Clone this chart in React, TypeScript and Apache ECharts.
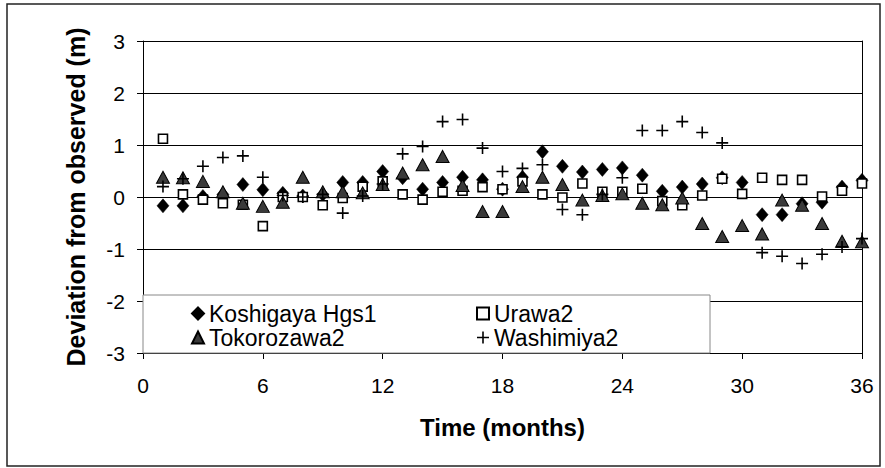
import React, { useEffect, useRef } from "react";
import * as echarts from "echarts";

const months = Array.from({ length: 36 }, (_, i) => i + 1);
const koshigaya = [-0.17, -0.17, 0.01, 0.05, 0.24, 0.14, 0.07, 0.02, 0.05, 0.28, 0.28, 0.49, 0.37, 0.15, 0.28, 0.38, 0.33, 0.15, 0.38, 0.87, 0.59, 0.48, 0.53, 0.56, 0.42, 0.11, 0.19, 0.25, 0.37, 0.28, -0.34, -0.34, -0.13, -0.1, 0.19, 0.32];
const urawa = [1.12, 0.05, -0.05, -0.12, -0.15, -0.56, 0.0, 0.0, -0.16, -0.02, 0.2, 0.3, 0.05, -0.05, 0.1, 0.12, 0.19, 0.15, 0.3, 0.05, -0.01, 0.26, 0.1, 0.1, 0.16, -0.08, -0.16, 0.03, 0.35, 0.06, 0.37, 0.33, 0.33, 0.01, 0.12, 0.26];
const tokorozawa = [0.38, 0.37, 0.3, 0.1, -0.12, -0.18, -0.1, 0.38, 0.1, 0.1, 0.08, 0.24, 0.46, 0.62, 0.78, 0.22, -0.28, -0.28, 0.2, 0.38, 0.24, -0.06, 0.03, 0.06, -0.12, -0.15, -0.02, -0.51, -0.76, -0.55, -0.71, -0.06, -0.16, -0.51, -0.85, -0.86];
const washimiya: (number | null)[] = [0.2, 0.35, 0.59, 0.76, 0.79, 0.38, 0.03, 0.0, 0.05, -0.31, 0.02, 0.25, 0.83, 0.97, 1.45, 1.49, 0.94, 0.49, 0.55, 0.62, -0.24, -0.34, 0.05, 0.37, 1.28, 1.28, 1.45, 1.24, 1.04, null, -1.07, -1.14, -1.28, -1.1, -0.96, -0.8];

const seriesNames = ["Koshigaya Hgs1", "Urawa2", "Tokorozawa2", "Washimiya2"];

const FONT = "'Liberation Sans', Arial, Helvetica, sans-serif";
const PLUS = "path://M5.2,0H6.8V5.2H12V6.8H6.8V12H5.2V6.8H0V5.2H5.2Z";

const pairs = (vals: (number | null)[]) =>
  months.map((m, i) => (vals[i] === null ? [m, null] : [m, vals[i]]));

export default function App() {
  const ref = useRef<HTMLDivElement>(null);
  useEffect(() => {
    document.body.style.margin = "0";
    if (!ref.current) return;
    const chart = echarts.init(ref.current, undefined, { renderer: "svg" });
    const legendText = { fontFamily: FONT, fontSize: 23, color: "#000" };
    chart.setOption({
      animation: false,
      backgroundColor: "#fff",
      textStyle: { fontFamily: FONT },
      grid: { left: 143, right: 23, top: 41, bottom: 115, containLabel: false },
      xAxis: {
        type: "value",
        min: 0,
        max: 36,
        interval: 6,
        name: "Time (months)",
        nameLocation: "middle",
        nameGap: 62,
        nameTextStyle: { fontFamily: FONT, fontSize: 24, fontWeight: "bold", color: "#000" },
        axisLine: { show: true, onZero: false, lineStyle: { color: "#000", width: 1 } },
        axisTick: { show: true, inside: false, length: 6, lineStyle: { color: "#000" } },
        axisLabel: { fontFamily: FONT, fontSize: 21, color: "#000", margin: 22 },
        splitLine: { show: false },
      },
      yAxis: [
        {
          type: "value",
          min: -3,
          max: 3,
          interval: 1,
          name: "Deviation from observed (m)",
          nameLocation: "middle",
          nameGap: 55,
          nameTextStyle: { fontFamily: FONT, fontSize: 25, fontWeight: "bold", color: "#000" },
          axisLine: { show: true, onZero: false, lineStyle: { color: "#000", width: 1 } },
          axisTick: { show: true, inside: false, length: 6, lineStyle: { color: "#000" } },
          axisLabel: { fontFamily: FONT, fontSize: 21, color: "#000", margin: 18 },
          splitLine: { show: true, lineStyle: { color: "#000", width: 1 } },
        },
        {
          type: "value",
          min: -3,
          max: 3,
          interval: 1,
          position: "right",
          axisLine: { show: true, onZero: false, lineStyle: { color: "#000", width: 1 } },
          axisTick: { show: false },
          axisLabel: { show: false },
          splitLine: { show: false },
        },
      ],
      graphic: [
        {
          type: "rect",
          z: 0,
          silent: true,
          shape: { x: 7, y: 4, width: 873, height: 462 },
          style: { fill: "none", stroke: "#222", lineWidth: 1.5 },
        },
        {
          type: "rect",
          z: 50,
          silent: true,
          shape: { x: 143, y: 295, width: 567, height: 58 },
          style: { fill: "#fff", stroke: "#888", lineWidth: 1 },
        },
      ],
      legend: [
        {
          data: [seriesNames[0], seriesNames[2]],
          orient: "vertical",
          left: 186,
          top: 297,
          itemGap: 1,
          itemWidth: 12,
          itemHeight: 12,
          z: 60,
          textStyle: legendText,
          selectedMode: false,
        },
        {
          data: [seriesNames[1], seriesNames[3]],
          orient: "vertical",
          left: 471,
          top: 297,
          itemGap: 1,
          itemWidth: 12,
          itemHeight: 12,
          z: 60,
          textStyle: legendText,
          selectedMode: false,
        },
      ],
      series: [
        {
          name: seriesNames[0],
          type: "scatter",
          symbol: "diamond",
          symbolSize: [12, 14],
          itemStyle: { color: "#000", borderColor: "#000", borderWidth: 0.5, opacity: 1 },
          data: pairs(koshigaya),
          z: 2,
        },
        {
          name: seriesNames[1],
          type: "scatter",
          symbol: "rect",
          symbolSize: 9,
          itemStyle: { color: "#fff", borderColor: "#000", borderWidth: 1.6, opacity: 1 },
          data: pairs(urawa),
          z: 3,
        },
        {
          name: seriesNames[2],
          type: "scatter",
          symbol: "triangle",
          symbolSize: [13, 12],
          itemStyle: { color: "#3a3a3a", borderColor: "#000", borderWidth: 1, opacity: 1 },
          data: pairs(tokorozawa),
          z: 4,
        },
        {
          name: seriesNames[3],
          type: "scatter",
          symbol: PLUS,
          symbolSize: 12,
          itemStyle: { color: "#000", opacity: 1 },
          data: pairs(washimiya),
          z: 5,
        },
      ],
    });
    return () => chart.dispose();
  }, []);
  return <div ref={ref} style={{ width: 885, height: 468 }} />;
}
